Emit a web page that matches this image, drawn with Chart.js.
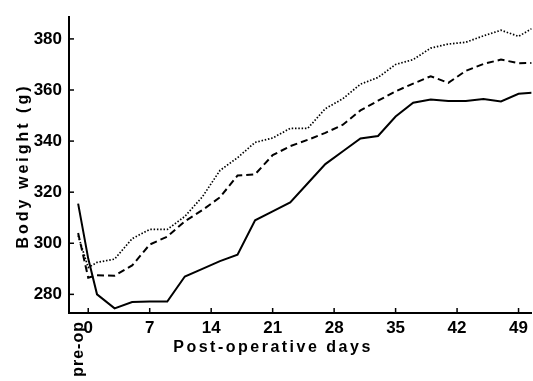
<!DOCTYPE html>
<html>
<head>
<meta charset="utf-8">
<script src="https://cdn.jsdelivr.net/npm/chart.js@4"></script>
<style>
html,body{margin:0;padding:0;background:#fff;}
#wrap{width:533px;height:381px;}
</style>
</head>
<body>
<div id="wrap"><canvas id="c" width="533" height="381"></canvas></div>
<script>
// ---- data ----
const days = [-1.15, 0, 1, 3, 5, 7, 9, 11, 13, 15, 17, 19, 21, 23, 25, 27, 29, 31, 33, 35, 37, 39, 41, 43, 45, 47, 49, 50.5];
const solidSeries = [315.5, 294, 280, 274.5, 277, 277.2, 277.2, 287, 290, 293, 295.5, 309, 312.5, 316, 323.5, 331, 336, 341, 342, 349.6, 355, 356.3, 355.7, 355.7, 356.5, 355.5, 358.5, 358.9];
const dashedSeries = [304, 286.5, 287.5, 287.3, 291.3, 299.5, 302.6, 308.6, 313, 318, 326.5, 327, 334.5, 338, 340.5, 343.2, 346.4, 352, 355.8, 359.5, 362.5, 365.4, 362.8, 367.5, 370.2, 371.9, 370.5, 370.6];
const dottedSeries = [303, 290.5, 292.5, 293.8, 301.8, 305.4, 305.4, 310.5, 318.2, 328.5, 333.5, 339.5, 341.2, 345, 345, 352.7, 356.6, 362.3, 364.9, 370, 371.9, 376.4, 378, 378.7, 381.2, 383.4, 381, 384];
const xTicks = [0, 7, 14, 21, 28, 35, 42, 49];
const yTicks = [280, 300, 320, 340, 360, 380];
const preOpLabel = 'pre-op';
const xTitle = 'Post-operative days';
const yTitle = 'Body weight (g)';

const pts = arr => days.map((d, i) => ({x: d, y: arr[i]}));
const FONT = '"Liberation Sans", Arial, sans-serif';

const decor = {
  id: 'decor',
  afterDraw(chart) {
    const ctx = chart.ctx;
    const xs = chart.scales.x, ys = chart.scales.y;
    const a = chart.chartArea;
    ctx.save();
    ctx.strokeStyle = '#000';
    ctx.lineWidth = 1.5;
    // inward tick marks
    xTicks.forEach(v => {
      const px = xs.getPixelForValue(v);
      ctx.beginPath(); ctx.moveTo(px, a.bottom); ctx.lineTo(px, a.bottom - 5); ctx.stroke();
    });
    yTicks.forEach(v => {
      const py = ys.getPixelForValue(v);
      ctx.beginPath(); ctx.moveTo(a.left, py); ctx.lineTo(a.left + 5, py); ctx.stroke();
    });
    ctx.fillStyle = '#000';
    // pre-op label (vertical)
    ctx.save();
    ctx.font = 'bold 16px ' + FONT;
    ctx.letterSpacing = '1px';
    ctx.translate(xs.getPixelForValue(days[0]), 321);
    ctx.rotate(-Math.PI / 2);
    ctx.textAlign = 'right';
    ctx.textBaseline = 'middle';
    ctx.fillText(preOpLabel, 0, 0);
    ctx.restore();
    // x title
    ctx.save();
    ctx.font = 'bold 16px ' + FONT;
    ctx.letterSpacing = '2.5px';
    ctx.textAlign = 'center';
    ctx.textBaseline = 'alphabetic';
    ctx.fillText(xTitle, 273, 352);
    ctx.restore();
    // y title
    ctx.save();
    ctx.font = 'bold 16px ' + FONT;
    ctx.letterSpacing = '3px';
    ctx.translate(24, 166);
    ctx.rotate(-Math.PI / 2);
    ctx.textAlign = 'center';
    ctx.textBaseline = 'middle';
    ctx.fillText(yTitle, 0, 0);
    ctx.restore();
    ctx.restore();
  }
};

new Chart(document.getElementById('c'), {
  type: 'line',
  data: {
    datasets: [
      {data: pts(solidSeries), borderColor: '#000', borderWidth: 2, pointRadius: 0, tension: 0, fill: false},
      {data: pts(dashedSeries), borderColor: '#000', borderWidth: 2, borderDash: [7, 4], pointRadius: 0, tension: 0, fill: false},
      {data: pts(dottedSeries), borderColor: '#000', borderWidth: 1.7, borderDash: [1.5, 1.8], pointRadius: 0, tension: 0, fill: false}
    ]
  },
  options: {
    responsive: false,
    animation: false,
    layout: {padding: {top: 12, right: 0, left: 0, bottom: 0}},
    plugins: {legend: {display: false}, tooltip: {enabled: false}},
    scales: {
      x: {
        type: 'linear',
        min: -2.19, max: 50.48,
        afterBuildTicks: s => { s.ticks = xTicks.map(v => ({value: v})); },
        afterFit: s => { s.height = 68; },
        grid: {drawOnChartArea: false, drawTicks: false},
        border: {display: true, color: '#000', width: 2},
        ticks: {color: '#000', padding: 5, maxRotation: 0, autoSkip: false, font: {family: FONT, size: 17, weight: 'bold'}}
      },
      y: {
        type: 'linear',
        min: 272.7, max: 388.5,
        afterBuildTicks: s => { s.ticks = yTicks.map(v => ({value: v})); },
        afterFit: s => { s.width = 69; },
        grid: {drawOnChartArea: false, drawTicks: false},
        border: {display: true, color: '#000', width: 2},
        ticks: {color: '#000', padding: 7, autoSkip: false, font: {family: FONT, size: 17, weight: 'bold'}}
      }
    }
  },
  plugins: [decor]
});
</script>
</body>
</html>
